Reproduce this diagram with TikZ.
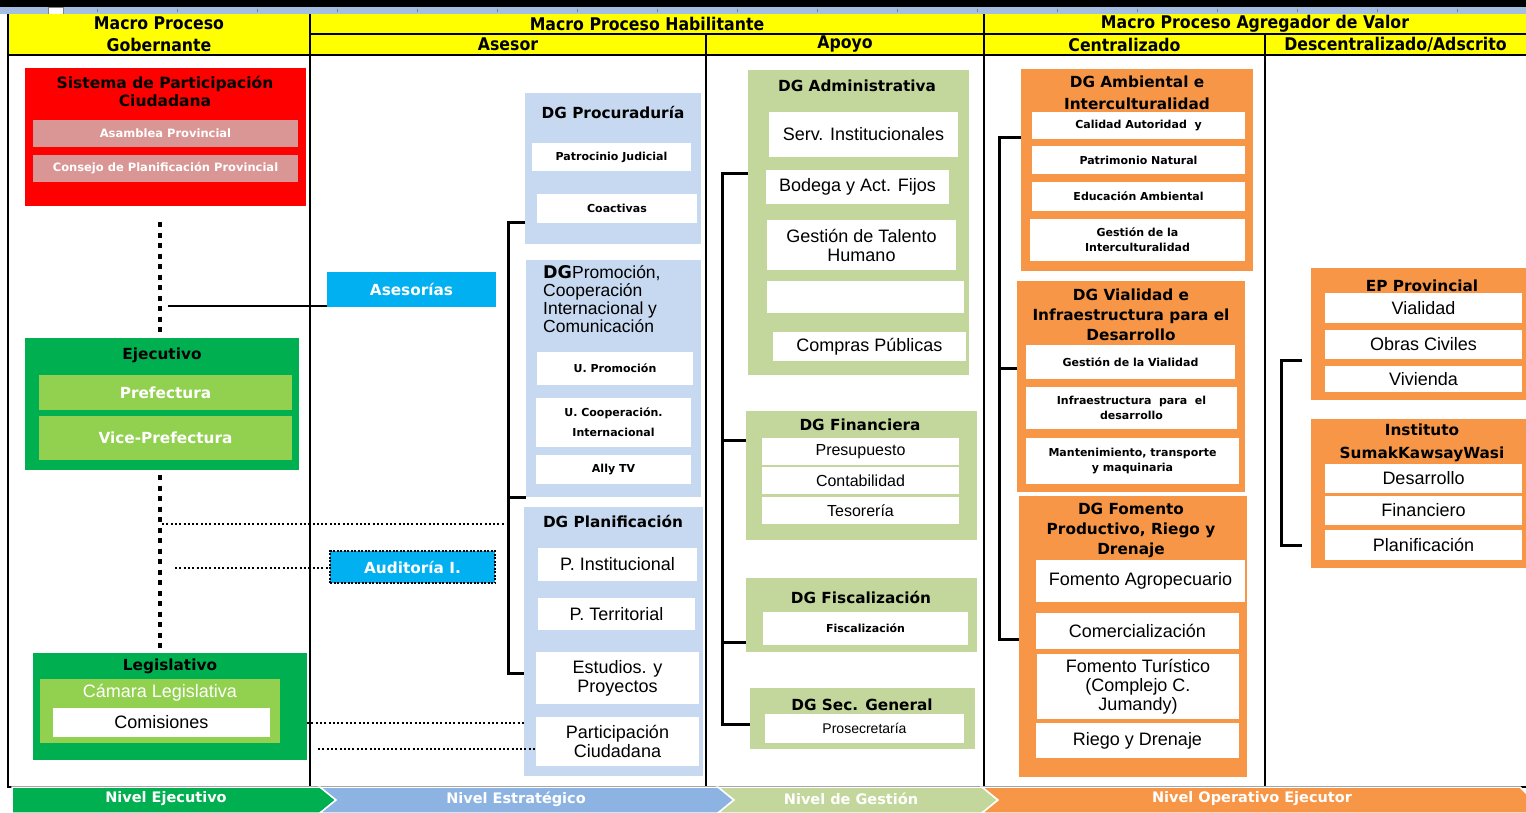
\documentclass[tikz,border=0pt]{standalone}
\usepackage{fontspec}
\setmainfont{Liberation Sans}
\newfontfamily\dvs{DejaVu Sans}
\newfontfamily\dvsn[FakeStretch=0.9]{DejaVu Sans}
\definecolor{cyel}{HTML}{FFFF00}
\definecolor{cred}{HTML}{FF0000}
\definecolor{cpink}{HTML}{D99694}
\definecolor{cdg}{HTML}{00B050}
\definecolor{clg}{HTML}{92D050}
\definecolor{ccy}{HTML}{00B0F0}
\definecolor{clb}{HTML}{C6D9F1}
\definecolor{col}{HTML}{C3D69B}
\definecolor{cor}{HTML}{F79646}
\definecolor{cchb}{HTML}{8DB3E2}
\definecolor{cruler}{HTML}{A3BEE0}
\newcommand\bx[7]{\node[bxs,#2,minimum width={(#5)-(#3)},minimum height={(#6)-(#4)}] (#1) at ({((#3)+(#5))/2},{((#4)+(#6))/2}) {#7};}
\begin{document}
\begin{tikzpicture}[x=1pt,y=-1pt,
 bxs/.style={inner sep=0pt,outer sep=0pt,align=center},
 hdr/.style={font=\dvsn\bfseries\fontsize{17.5}{22}\selectfont},
 ttl/.style={font=\dvs\bfseries\fontsize{15.3}{20}\selectfont,align=center,inner sep=0pt},
 ttlw/.style={ttl,text=white},
 itb/.style={font=\dvs\bfseries\fontsize{11}{15}\selectfont,align=center},
 itbw/.style={itb,text=white,font=\dvs\bfseries\fontsize{11.5}{15}\selectfont},
 itr/.style={font=\fontsize{18}{19}\selectfont,align=center},
 itrw/.style={itr,text=white},
 grid/.style={line width=1.5pt,black},
 brk/.style={line width=3pt,black},
 bigdot/.style={line width=4.5pt,black,dash pattern=on 5pt off 5.5pt},
 smalldot/.style={line width=2pt,black,dash pattern=on 2pt off 2.3pt},
 nivs/.style={font=\dvs\bfseries\fontsize{14.5}{16}\selectfont,text=white,inner sep=0pt},
 chev/.style={draw=white,line width=1.5pt}
]
\useasboundingbox (0,0) rectangle (1526,812);
\fill[white] (0,0) rectangle (1526,812);
% ruler
\fill[black] (0,0) rectangle (1526,7);
\fill[cruler] (0,7) rectangle (1526,14);
\foreach \t in {97,177,...,1500} \draw[gray,line width=1pt] (\t,9) -- (\t,12);
\draw[gray,fill=white,line width=0.8pt] (48,7.5) rectangle (63,14);
% header
\bx{hGob}{fill=cyel,hdr}{8}{14}{310}{55}{Macro Proceso\\Gobernante}
\bx{hHab}{fill=cyel,hdr}{310}{14}{984}{34}{Macro Proceso Habilitante}
\bx{hAgr}{fill=cyel,hdr}{984}{14}{1526}{34}{Macro Proceso Agregador de Valor}
\bx{hAse}{fill=cyel,hdr}{310}{34}{706}{55}{Asesor}
\bx{hApo}{fill=cyel,hdr}{706}{34}{984}{55}{Apoyo}
\bx{hCen}{fill=cyel,hdr}{984}{34}{1265}{55}{Centralizado}
\bx{hDes}{fill=cyel,hdr}{1265}{34}{1526}{55}{Descentralizado/Adscrito}
% grid
\draw[grid] (8,14) -- (8,787) -- (1526,787);
\draw[grid] (310,14) -- (310,787);
\draw[grid] (706,34) -- (706,787);
\draw[grid] (984,14) -- (984,787);
\draw[grid] (1265,34) -- (1265,787);
\draw[grid] (310,34) -- (1526,34);
\draw[grid] (8,55) -- (1526,55);
% left column
\bx{spc}{fill=cred}{25}{68}{306}{206}{}
\node[ttl,font=\dvs\bfseries\fontsize{15.5}{18}\selectfont] (spcT) at (165,91) {Sistema de Participación\\Ciudadana};
\bx{asam}{fill=cpink,itbw}{33}{120}{298}{147}{Asamblea Provincial}
\bx{cons}{fill=cpink,itbw}{33}{155}{298}{182}{Consejo de Planificación Provincial}
\bx{ejec}{fill=cdg}{25}{338}{299}{470}{}
\node[ttl] (ejecT) at (162,355) {Ejecutivo};
\bx{pref}{fill=clg,ttlw}{39}{375}{292}{410}{Prefectura}
\bx{vpref}{fill=clg,ttlw}{39}{416}{292}{460}{Vice-Prefectura}
\bx{leg}{fill=cdg}{33}{653}{307}{760}{}
\node[ttl] (legT) at (170,666) {Legislativo};
\bx{cam}{fill=clg}{40}{679}{280}{743}{}
\node[itrw] (camT) at (160,693) {Cámara Legislativa};
\bx{com}{fill=white,itr}{53}{708}{270}{737}{Comisiones}
% asesor
\bx{ases}{fill=ccy,ttlw}{327}{272}{496}{307}{Asesorías}
\bx{aud}{fill=ccy,ttlw,draw=black,line width=2pt,dash pattern=on 2pt off 1.5pt}{330}{551}{495}{583}{Auditoría I.}
\bx{proc}{fill=clb}{525}{93}{701}{244}{}
\node[ttl] (procT) at (613,112) {DG Procuraduría};
\bx{patr}{fill=white,itb}{532}{143}{691}{171}{Patrocinio Judicial}
\bx{coac}{fill=white,itb}{537}{194}{697}{223}{Coactivas}
\bx{prom}{fill=clb}{526}{260}{701}{497}{}
\node[itr,align=left,anchor=north west,inner sep=0pt,font=\fontsize{17.5}{18}\selectfont] (promT) at (543,265) {{\dvs\bfseries DG}Promoción,\\Cooperación\\Internacional y\\Comunicación};
\bx{uprom}{fill=white,itb}{537}{352}{693}{385}{U. Promoción}
\bx{ucoop}{fill=white,itb,font=\dvs\bfseries\fontsize{11}{20}\selectfont}{536}{398}{691}{447}{U. Cooperación.\\Internacional}
\bx{ally}{fill=white,itb}{536}{455}{691}{484}{Ally TV}
\bx{plan}{fill=clb}{524}{507}{703}{776}{}
\node[ttl] (planT) at (613,521) {DG Planificación};
\bx{pins}{fill=white,itr}{538}{548}{697}{581}{P. Institucional}
\bx{pter}{fill=white,itr}{538}{598}{695}{630}{P. Territorial}
\bx{estu}{fill=white,itr}{536}{652}{699}{704}{Estudios. y\\Proyectos}
\bx{partc}{fill=white,itr}{536}{717}{699}{766}{Participación\\Ciudadana}
% apoyo
\bx{adm}{fill=col}{748}{70}{969}{375}{}
\node[ttl] (admT) at (857,86) {DG Administrativa};
\bx{serv}{fill=white,itr}{769}{112}{958}{157}{Serv. Institucionales}
\bx{bode}{fill=white,itr}{766}{170}{949}{204}{Bodega y Act. Fijos}
\bx{tal}{fill=white,itr}{767}{220}{956}{270}{Gestión de Talento\\Humano}
\bx{emp}{fill=white}{767}{281}{964}{313}{}
\bx{comp}{fill=white,itr}{773}{332}{966}{361}{Compras Públicas}
\bx{fin}{fill=col}{746}{411}{977}{540}{}
\node[ttl] (finT) at (860,425) {DG Financiera};
\bx{pres}{fill=white,itr,font=\fontsize{16}{16}\selectfont}{762}{438}{959}{465}{Presupuesto}
\bx{cont}{fill=white,itr,font=\fontsize{16}{16}\selectfont}{762}{467}{959}{494}{Contabilidad}
\bx{teso}{fill=white,itr,font=\fontsize{16}{16}\selectfont}{762}{497}{959}{524}{Tesorería}
\bx{fisc}{fill=col}{746}{578}{977}{652}{}
\node[ttl] (fiscT) at (861,597) {DG Fiscalización};
\bx{fisi}{fill=white,itb}{763}{612}{968}{645}{Fiscalización}
\bx{sec}{fill=col}{750}{688}{975}{749}{}
\node[ttl] (secT) at (862,705) {DG Sec. General};
\bx{pros}{fill=white,itr,font=\fontsize{14}{15}\selectfont}{765}{714}{964}{743}{Prosecretaría}
% centralizado
\bx{amb}{fill=cor}{1021}{69}{1253}{271}{}
\node[ttl,font=\dvs\bfseries\fontsize{15.3}{22}\selectfont] (ambT) at (1137,93) {DG Ambiental e\\Interculturalidad};
\bx{cal}{fill=white,itb}{1032}{112}{1245}{139}{Calidad Autoridad \ y}
\bx{pat}{fill=white,itb}{1032}{146}{1245}{174}{Patrimonio Natural}
\bx{edu}{fill=white,itb}{1032}{182}{1245}{211}{Educación Ambiental}
\bx{gint}{fill=white,itb}{1030}{219}{1245}{261}{Gestión de la\\Interculturalidad}
\bx{vial}{fill=cor}{1017}{281}{1245}{492}{}
\node[ttl] (vialT) at (1131,315) {DG Vialidad e\\Infraestructura para el\\Desarrollo};
\bx{gvia}{fill=white,itb}{1026}{345}{1235}{379}{Gestión de la Vialidad}
\bx{infd}{fill=white,itb}{1026}{387}{1237}{429}{Infraestructura \ para \ el\\desarrollo}
\bx{mant}{fill=white,itb}{1026}{438}{1239}{484}{Mantenimiento, transporte\\y maquinaria}
\bx{fom}{fill=cor}{1019}{496}{1247}{777}{}
\node[ttl] (fomT) at (1131,530) {DG Fomento\\Productivo, Riego y\\Drenaje};
\bx{fagr}{fill=white,itr}{1036}{560}{1245}{602}{Fomento Agropecuario}
\bx{come}{fill=white,itr}{1036}{613}{1239}{649}{Comercialización}
\bx{ftur}{fill=white,itr}{1037}{654}{1239}{719}{Fomento Turístico\\(Complejo C.\\Jumandy)}
\bx{rieg}{fill=white,itr}{1036}{723}{1239}{758}{Riego y Drenaje}
% descentralizado
\bx{ep}{fill=cor}{1311}{268}{1526}{400}{}
\node[ttl] (epT) at (1422,286) {EP Provincial};
\bx{ev}{fill=white,itr}{1325}{293}{1522}{323}{Vialidad}
\bx{eo}{fill=white,itr}{1325}{330}{1522}{359}{Obras Civiles}
\bx{evi}{fill=white,itr}{1325}{366}{1522}{392}{Vivienda}
\bx{ins}{fill=cor}{1311}{419}{1526}{568}{}
\node[ttl,font=\dvs\bfseries\fontsize{15.3}{23}\selectfont] (insT) at (1422,443) {Instituto\\SumakKawsayWasi};
\bx{ides}{fill=white,itr}{1325}{464}{1522}{493}{Desarrollo}
\bx{ifin}{fill=white,itr}{1325}{496}{1522}{525}{Financiero}
\bx{ipla}{fill=white,itr}{1325}{530}{1522}{560}{Planificación}
% brackets
\coordinate (a1) at (508,222); \coordinate (a2) at (508,673); \coordinate (a3) at (508,497);
\draw[brk] (a1 -| proc.west) -- (a1) -- (a2) -- (a2 -| plan.west);
\draw[brk] (a3) -- (a3 -| prom.west);
\coordinate (p1) at (722,173); \coordinate (p2) at (722,724); \coordinate (p3) at (722,440); \coordinate (p4) at (722,642);
\draw[brk] (p1 -| adm.west) -- (p1) -- (p2) -- (p2 -| sec.west);
\draw[brk] (p3) -- (p3 -| fin.west);
\draw[brk] (p4) -- (p4 -| fisc.west);
\coordinate (c1) at (999,137); \coordinate (c2) at (999,639); \coordinate (c3) at (999,368);
\draw[brk] (c1 -| amb.west) -- (c1) -- (c2) -- (c2 -| fom.west);
\draw[brk] (c3) -- (c3 -| vial.west);
\coordinate (d1) at (1281,360); \coordinate (d2) at (1281,545);
\draw[brk,shorten <=9pt,shorten >=9pt] (d1 -| ep.west) -- (d1) -- (d2) -- (d2 -| ins.west);
% dotted links
\coordinate (v1) at (160,222); \coordinate (v2) at (160,475);
\draw[bigdot,shorten >=3pt] (v1) -- (v1 |- ejec.north);
\draw[bigdot] (v2) -- (v2 |- leg.north);
\coordinate (h1) at (168,306);
\draw[line width=2pt] (h1) -- (h1 -| ases.west);
\coordinate (h2) at (162,524);
\draw[smalldot,shorten >=3pt] (h2) -- (h2 -| a1);
\coordinate (h3) at (175,568);
\draw[smalldot] (h3) -- (h3 -| aud.west);
\coordinate (h4) at (307,723);
\draw[smalldot,shorten >=12pt] (h4) -- (h4 -| partc.west);
\coordinate (h5) at (318,749);
\draw[smalldot] (h5) -- (h5 -| partc.west);
% bottom chevrons
\fill[cdg,chev] (12,787) -- (320,787) -- (336,800) -- (320,813) -- (12,813) -- cycle;
\fill[cchb,chev] (320,787) -- (718,787) -- (734,800) -- (718,813) -- (320,813) -- (336,800) -- cycle;
\fill[col,chev] (718,787) -- (982,787) -- (998,800) -- (982,813) -- (718,813) -- (734,800) -- cycle;
\fill[cor,chev] (982,787) -- (1520,787) -- (1527,794) -- (1527,813) -- (982,813) -- (998,800) -- cycle;
\node[nivs] (n1) at (166,799) {Nivel Ejecutivo};
\node[nivs] (n2) at (516,799) {Nivel Estratégico};
\node[nivs] (n3) at (851,799) {Nivel de Gestión};
\node[nivs] (n4) at (1252,799) {Nivel Operativo Ejecutor};
\end{tikzpicture}
\end{document}
